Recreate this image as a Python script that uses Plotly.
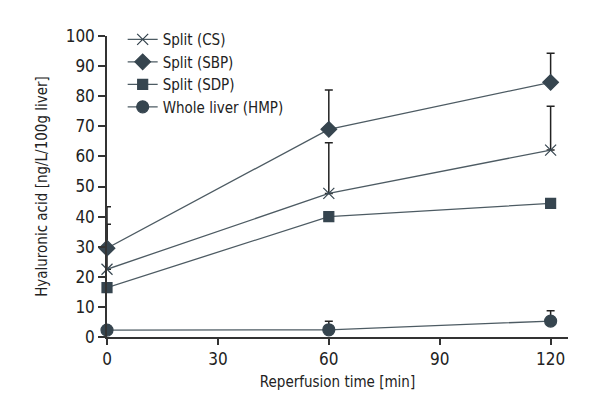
import plotly.graph_objects as go

times = [0, 60, 120]
series_names = ["Split (CS)", "Split (SBP)", "Split (SDP)", "Whole liver (HMP)"]
cs_vals = [22.5, 47.7, 62.1]
cs_err = [15.0, 16.8, 14.6]
sbp_vals = [29.5, 69.0, 84.6]
sbp_err = [13.8, 13.1, 9.7]
sdp_vals = [16.4, 40.0, 44.4]
sdp_err = [0, 0, 0]
hmp_vals = [2.3, 2.4, 5.3]
hmp_err = [0, 2.8, 3.4]
x_ticks = [0, 30, 60, 90, 120]
y_ticks = [0, 10, 20, 30, 40, 50, 60, 70, 80, 90, 100]

FONT = "DejaVu Sans Condensed"
MC = "#36454f"
LC = "#4d5b63"

symbols = ["x-thin-open", "diamond", "square", "circle"]
sizes = [11, 12, 10, 12]
vals = [cs_vals, sbp_vals, sdp_vals, hmp_vals]
errs = [cs_err, sbp_err, sdp_err, hmp_err]

fig = go.Figure()
for name, v, e, sym, sz in zip(series_names, vals, errs, symbols, sizes):
    fig.add_trace(go.Scatter(
        x=times, y=v, name=name, mode="lines+markers",
        line=dict(color=LC, width=1.3),
        marker=dict(symbol=sym, size=sz, color=MC,
                    line=dict(color=MC, width=1.2)),
        error_y=dict(type="data", array=e, arrayminus=[0] * len(e),
                     symmetric=False, color="#222222", thickness=1.5, width=4,
                     visible=True),
        cliponaxis=False,
    ))

fig.update_layout(
    width=600, height=420,
    margin=dict(l=99, r=40, t=28, b=91),
    paper_bgcolor="white", plot_bgcolor="white",
    font=dict(family=FONT, size=16, color="#222222"),
    showlegend=True,
    legend=dict(x=0.034, y=1.043, xanchor="left", yanchor="top",
                bgcolor="rgba(0,0,0,0)", font=dict(size=15),
                itemwidth=30, tracegroupgap=0),
    xaxis=dict(range=[0, 124.7], tickvals=x_ticks, ticks="outside",
               ticklen=6, tickwidth=1.5, tickcolor="#333333",
               showline=True, linecolor="#333333", linewidth=1.5,
               showgrid=False, zeroline=False, automargin=False,
               title=dict(text="Reperfusion time [min]", standoff=8,
                          font=dict(size=15)),
               tickfont=dict(size=17)),
    yaxis=dict(range=[0, 100], tickvals=y_ticks, ticks="outside",
               ticklen=7, tickwidth=1.5, tickcolor="#333333",
               showline=True, linecolor="#333333", linewidth=1.5,
               showgrid=False, zeroline=False, automargin=False,
               title=dict(text="Hyaluronic acid [ng/L/100g liver]", standoff=14,
                          font=dict(size=15)),
               tickfont=dict(size=17)),
)

fig.write_html("out.html")
